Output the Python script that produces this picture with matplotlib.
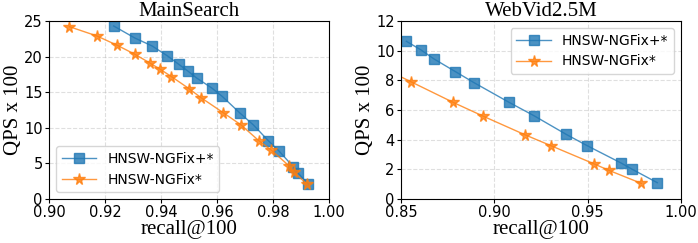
import numpy as np
import matplotlib
matplotlib.use("Agg")
import matplotlib.pyplot as plt

matplotlib.rc('font', size=10.5)

# MainSearch
ms_plus_recall = [0.9231, 0.9307, 0.9368, 0.9423, 0.9464, 0.9495, 0.9527, 0.9581,
                  0.9619, 0.9681, 0.9730, 0.9783, 0.9820, 0.9873, 0.9888, 0.9926]
ms_plus_qps = [24.3, 22.6, 21.5, 20.1, 18.9, 18.0, 17.0, 15.6,
               14.4, 12.1, 10.4, 8.2, 6.8, 4.5, 3.7, 2.1]
ms_base_recall = [0.9073, 0.9171, 0.9243, 0.9308, 0.9360, 0.9398, 0.9437, 0.9500,
                  0.9544, 0.9623, 0.9686, 0.9749, 0.9793, 0.9856, 0.9874, 0.9921]
ms_base_qps = [24.2, 22.9, 21.6, 20.3, 19.1, 18.2, 17.2, 15.5,
               14.2, 12.1, 10.4, 8.2, 6.9, 4.7, 3.8, 2.1]

# WebVid2.5M
wv_plus_recall = [0.8529, 0.8607, 0.8677, 0.8791, 0.8893, 0.9077, 0.9213, 0.9386,
                  0.9498, 0.9680, 0.9739, 0.9873]
wv_plus_qps = [10.63, 10.05, 9.44, 8.59, 7.83, 6.53, 5.61, 4.35, 3.59, 2.42, 2.00, 1.10]
wv_base_recall = [0.840, 0.8554, 0.8780, 0.8939, 0.9164, 0.9304, 0.9532, 0.9614, 0.9788]
wv_base_qps = [8.85, 7.90, 6.51, 5.59, 4.33, 3.59, 2.38, 1.93, 1.05]

labels = ['HNSW-NGFix+*', 'HNSW-NGFix*']


def plot_panel(ax, plus_x, plus_y, base_x, base_y, title, xlim, xticks, ylim, yticks, loc):
    ax.plot(plus_x, plus_y, marker='s', markersize=7.5, color='tab:blue', alpha=0.8,
            linewidth=1, label=labels[0])
    ax.plot(base_x, base_y, marker='*', markersize=8.5, color='tab:orange', alpha=0.8,
            linewidth=1, label=labels[1])
    ax.set_xlim(xlim)
    ax.set_ylim(ylim)
    ax.set_xticks(xticks)
    ax.set_yticks(yticks)
    ax.set_xticklabels(['%.2f' % t for t in xticks])
    ax.tick_params(length=3, pad=1.5)
    ax.set_title(title, fontsize=15, family='Liberation Serif', pad=2)
    ax.set_xlabel('recall@100', fontsize=15, family='Liberation Serif', labelpad=0)
    ax.set_ylabel('QPS x 100', fontsize=15, family='Liberation Serif', labelpad=1)
    ax.grid(True, linestyle='--', alpha=0.4)
    ax.legend(loc=loc, fontsize=10, handlelength=2.5)


fig = plt.figure(figsize=(6.98, 2.43), dpi=100)
ax1 = fig.add_axes([49 / 698, 1 - 199 / 243, 280 / 698, 178 / 243])
ax2 = fig.add_axes([401 / 698, 1 - 199 / 243, 280 / 698, 178 / 243])

plot_panel(ax1, ms_plus_recall, ms_plus_qps, ms_base_recall, ms_base_qps, 'MainSearch',
           [0.90, 1.00], [0.90, 0.92, 0.94, 0.96, 0.98, 1.00], [0, 25],
           [0, 5, 10, 15, 20, 25], 'lower left')
plot_panel(ax2, wv_plus_recall, wv_plus_qps, wv_base_recall, wv_base_qps, 'WebVid2.5M',
           [0.85, 1.00], [0.85, 0.90, 0.95, 1.00], [0, 12],
           [0, 2, 4, 6, 8, 10, 12], 'upper right')

fig.savefig('out.png', dpi=100)
